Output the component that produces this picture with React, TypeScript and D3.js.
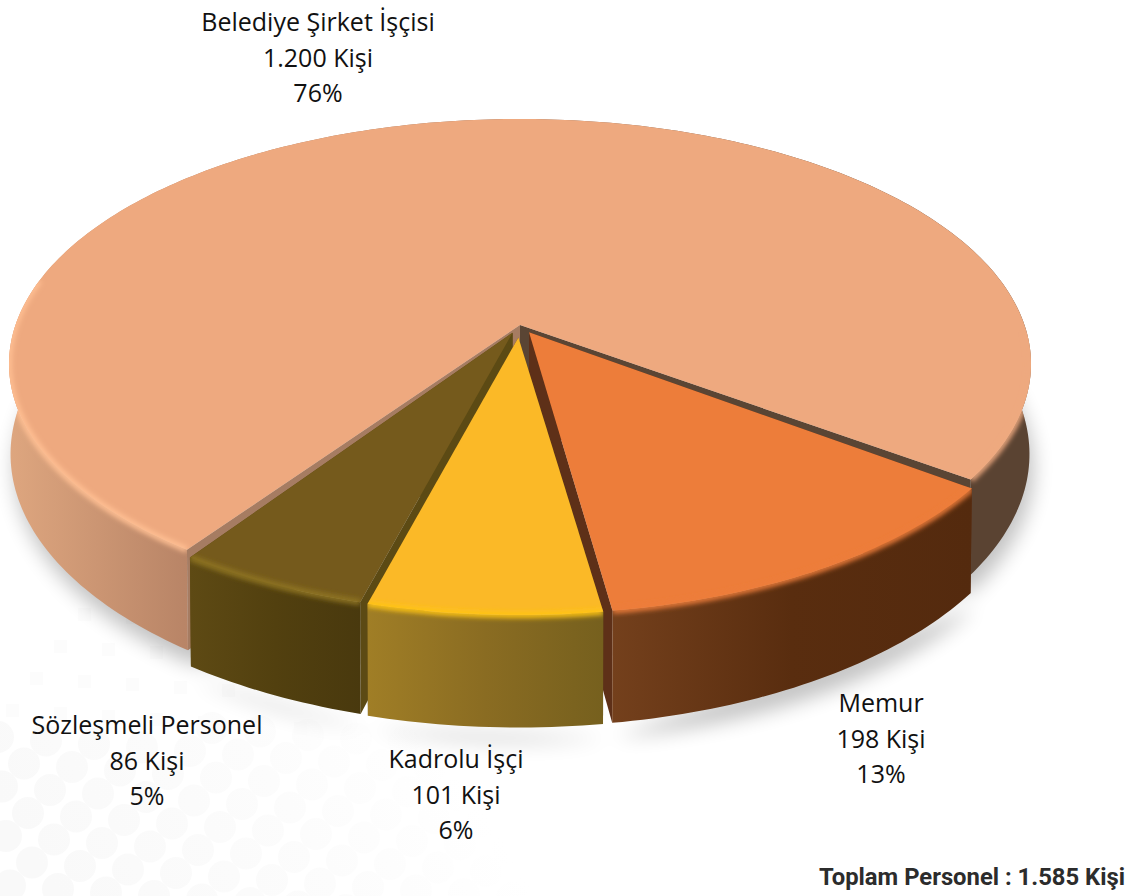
import React from "react";
import * as d3 from "d3";

const names = ["Memur", "Kadrolu İşçi", "Sözleşmeli Personel", "Belediye Şirket İşçisi"];
const counts = [198, 101, 86, 1200];
const countLabels = ["198 Kişi", "101 Kişi", "86 Kişi", "1.200 Kişi"];
const percentLabels = ["13%", "6%", "5%", "76%"];
const totalLabel = "Toplam Personel : 1.585 Kişi";

const topColors = ["#ed7d3a", "#fbb927", "#755a1c", "#eea97f"];
const rimColors = ["#ed7d3a", "#ffc516", "#8f7420", "#ffbf93"];
const cutStartColors = ["#5e3018", "#5a4512", "#5c4a14", "#a67c62"];
const cutEndColors = ["#5e3018", "#5a4512", "#5c4a14", "#5a4534"];
const wallStops: [number, string][][] = [
  [[0, "#74401c"], [0.5, "#592d0f"], [1, "#542a0e"]],
  [[0, "#a07e26"], [0.5, "#8a6c22"], [1, "#76601e"]],
  [[0, "#5e4a14"], [0.5, "#52400f"], [1, "#49390e"]],
  [[0, "#dea67f"], [0.17, "#b98567"], [0.6, "#8a6650"], [0.85, "#5a4332"], [1, "#5a4332"]],
];
const explode = [0.018, 0.018, 0.016, 0];
const explodeApex = [0.035, 0.052, 0.035, 0];
const trimStartDeg = [0, 0, 0.2, 0.6];
const trimEndDeg = [0.3, 0.2, 0.4, 1.1];
const depth = [95, 95, 95, 88];
const paintOrder = [3, 0, 2, 1];
const labelX = [881, 456, 147, 318];
const labelY = [712, 768, 734, 31];

// perspective projection of the pie's disc
const cx = 520, cy = 325, A = 504.5, B = 238.8, P = 0.159, shrink = 0.997;
const startDeg = 127.0;

const pie = d3.pie<number>().sort(null)
  .startAngle((startDeg * Math.PI) / 180)
  .endAngle((startDeg * Math.PI) / 180 + 2 * Math.PI);
const arcs = pie(counts);

type Pt = [number, number];
const project = (r: number, a: number, mid: number, e: number, H: number): Pt => {
  const u = r * Math.sin(a) + e * Math.sin(mid);
  const v = -r * Math.cos(a) - e * Math.cos(mid);
  const w = 1 - P * v;
  if (!H) return [cx + (A * u) / w, cy + (B * v) / w];
  return [cx + (A * shrink * u) / w, cy + (B * shrink * v) / w + H / w];
};
const line = d3.line<Pt>();
const rad = Math.PI / 180;
const sampleAngles = (a0: number, a1: number) => {
  const n = Math.max(2, Math.ceil((a1 - a0) / rad));
  return d3.range(n + 1).map((i) => a0 + ((a1 - a0) * i) / n);
};

const dotRows = d3.range(-2, 7);
const dotCols = d3.range(-2, 16);
const squareRows = d3.range(0, 4);
const squareCols = d3.range(0, 7);

export default function App() {
  const slices = arcs.map((arc, i) => {
    const mid = (arc.startAngle + arc.endAngle) / 2;
    const e = explode[i];
    const as = sampleAngles(arc.startAngle + trimStartDeg[i] * rad, arc.endAngle - trimEndDeg[i] * rad);
    const topArc = as.map((a) => project(1, a, mid, e, 0));
    const lowArc = as.map((a) => project(1, a, mid, e, depth[i]));
    const apex = project(0, 0, mid, explodeApex[i], 0);
    const apexLow = project(0, 0, mid, explodeApex[i], depth[i]);
    const top = line([apex, ...topArc])! + "Z";
    const wall = line([...topArc, ...[...lowArc].reverse()])! + "Z";
    const cutA = line([apex, topArc[0], lowArc[0], apexLow])! + "Z";
    const last = topArc.length - 1;
    const cutB = line([apex, topArc[last], lowArc[last], apexLow])! + "Z";
    const xs = [...topArc, ...lowArc].map((p) => p[0]);
    // front-facing stretches of the rim, kept as separate runs
    const runs: { pts: Pt[]; left: boolean }[] = [];
    let cur: Pt[] = [];
    as.forEach((a) => {
      const v = -Math.cos(a);
      const left = Math.sin(a) < 0;
      if (v > (left ? -0.2 : 0.02)) cur.push(project(1, a, mid, e, 0));
      else if (cur.length) { runs.push({ pts: cur, left: cur[0][0] < cx }); cur = []; }
    });
    if (cur.length) runs.push({ pts: cur, left: cur[0][0] < cx });
    return { i, top, wall, cutA, cutB, low: lowArc, runs, x0: d3.min(xs)!, x1: d3.max(xs)! };
  });

  const shadow = slices.map((s) => line(s.low)! + "Z").join(" ");

  return (
    <svg width={1137} height={896} viewBox="0 0 1137 896"
      style={{ position: "absolute", left: 0, top: 0, display: "block", background: "#fff" }}>
      <defs>
        <filter id="blurShadow" x="-10%" y="-10%" width="120%" height="120%"><feGaussianBlur stdDeviation="10" /></filter>
        <filter id="blurRim" filterUnits="userSpaceOnUse" x="0" y="0" width="1137" height="896"><feGaussianBlur stdDeviation="2.8" /></filter>
        <linearGradient id="fade" gradientUnits="userSpaceOnUse" x1={60} y1={896} x2={400} y2={680}>
          <stop offset="0" stopColor="#f9f9f9" /><stop offset="0.6" stopColor="#fcfcfc" /><stop offset="1" stopColor="#ffffff" />
        </linearGradient>
        {slices.map((s) => (
          <linearGradient key={s.i} id={`wall${s.i}`} gradientUnits="userSpaceOnUse" x1={s.x0} x2={s.x1} y1={0} y2={0}>
            {wallStops[s.i].map(([o, c], k) => <stop key={k} offset={o} stopColor={c} />)}
          </linearGradient>
        ))}
        {slices.map((s) => (
          <clipPath key={s.i} id={`clip${s.i}`}>
            <path d={s.top} /><path d={s.wall} />
          </clipPath>
        ))}
      </defs>

      <g fill="url(#fade)">
        {dotRows.flatMap((r) =>
          dotCols.map((c) => {
            const x = c * 48 - r * 26 + 6;
            const y = 896 - r * 26.5 + c * 3.5 - 60;
            return y > 725 ? <circle key={`${r}-${c}`} cx={x} cy={y} r={16} /> : null;
          })
        )}
      </g>
      <g fill="#fcfcfc">
        {squareRows.flatMap((r) =>
          squareCols.map((c) => (
            <rect key={`${r}-${c}`} x={c * 48 - r * 24 + 78} y={608 + r * 32 + c * 3} width={13} height={13} />
          ))
        )}
      </g>

      <path d={shadow} transform="translate(4,14)" fill="#000" opacity={0.24} filter="url(#blurShadow)" />

      {paintOrder.map((idx) => {
        const s = slices[idx];
        return (
          <g key={idx}>
            <path d={s.cutA} fill={cutStartColors[idx]} />
            <path d={s.cutB} fill={cutEndColors[idx]} />
            <path d={s.wall} fill={`url(#wall${idx})`} />
            <path d={s.top} fill={topColors[idx]} />
            <g clipPath={`url(#clip${idx})`}>
              {s.runs.map((run, k) => (
                <path key={k} d={line(run.pts)!} fill="none"
                  stroke={idx === 3 && !run.left ? topColors[idx] : rimColors[idx]}
                  strokeWidth={6} filter="url(#blurRim)" />
              ))}
            </g>
          </g>
        );
      })}

      <g fontFamily="'Open Sans', sans-serif" fontSize={25} fill="#111" textAnchor="middle">
        {names.map((n, i) => (
          <g key={n}>
            <text x={labelX[i]} y={labelY[i]}>{n}</text>
            <text x={labelX[i]} y={labelY[i] + 35.5}>{countLabels[i]}</text>
            <text x={labelX[i]} y={labelY[i] + 71}>{percentLabels[i]}</text>
          </g>
        ))}
      </g>
      <text x={819} y={885} textLength={306} lengthAdjust="spacingAndGlyphs"
        fontFamily="Roboto, sans-serif" fontWeight={700} fontSize={24} fill="#2c2c2c">{totalLabel}</text>
    </svg>
  );
}
